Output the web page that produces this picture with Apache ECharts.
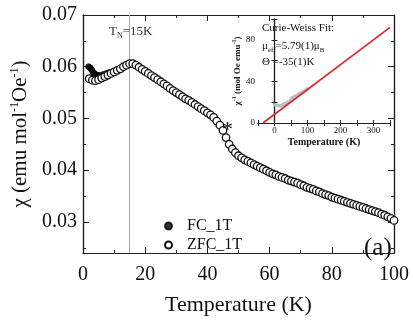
<!DOCTYPE html>
<html>
<head>
<meta charset="utf-8">
<script src="https://cdn.jsdelivr.net/npm/echarts@6/dist/echarts.min.js"></script>
<style>
html,body{margin:0;padding:0;background:#fff;}
#chart{width:413px;height:321px;}
</style>
</head>
<body>
<div id="chart"></div>
<script>
// ZFC susceptibility, 1 T
var tempZfc = [2,3,4,5,6,7,8,9,10,11,12,13,14,15,16,17,18,19,20,21,22,23,24,25,26,27,28,29,30,
  31,32,33,34,35,36,37,38,39,40,41,42,43,44,45,46,47,48,49,50,51,52,53,54,55,56,57,58,59,60,
  61,62,63,64,65,66,67,68,69,70,71,72,73,74,75,76,77,78,79,80,81,82,83,84,85,86,87,88,89,90,
  91,92,93,94,95,96,97,98,99,100];
var chiZfc = [0.0577,0.0574,0.0573,0.0575,0.0578,0.0581,0.0584,0.0587,0.0590,0.0593,0.0596,0.0600,0.0603,0.0606,
  0.0606,0.0603,0.0599,0.0595,0.0591,0.0587,0.0583,0.0579,0.0575,0.0571,0.0567,0.0563,0.0558,0.0554,0.0550,
  0.0546,0.0542,0.0538,0.0535,0.0531,0.0527,0.0523,0.0519,0.0515,0.0511,0.0507,0.0502,0.0495,0.0487,0.0477,
  0.0463,0.0450,0.0441,0.0434,0.0428,0.0424,0.0420,0.0417,0.0414,0.0411,0.0408,0.0405,0.0402,0.0399,0.0396,
  0.0393,0.0391,0.0388,0.0386,0.0384,0.0381,0.0379,0.0377,0.0375,0.0372,0.0370,0.0367,0.0365,0.0363,0.0360,
  0.0358,0.0355,0.0353,0.0351,0.0348,0.0346,0.0344,0.0342,0.0340,0.0338,0.0336,0.0334,0.0332,0.0330,0.0328,
  0.0326,0.0324,0.0322,0.0320,0.0318,0.0315,0.0313,0.0310,0.0307,0.0303];
// FC, only the low-T part where it splits from ZFC
var tempFc = [1.8,2.3,2.8,3.3,3.8,4.3,4.8,5.5,6.5,7.5,8.5];
var chiFc = [0.0600,0.0598,0.0594,0.0589,0.0586,0.0584,0.0583,0.0583,0.0585,0.0587,0.0589];
var tN = 15;

// inset: inverse susceptibility + Curie-Weiss line
var invTemp = [2,5,10,15,20,25,30,35,40,45,50,55,60,65,70,75,80,85,90,95,100];
var invChi = [17.3,17.4,16.9,16.5,16.9,17.5,18.2,18.9,19.6,21.0,23.4,24.3,25.3,26.0,26.9,27.8,28.7,29.6,30.5,31.4,33.0];
var fitTemp = [-35,350];
var fitInvChi = [0,92];

var yLabels = [0.03,0.04,0.05,0.06,0.07];
var yMinor = [0.025,0.035,0.045,0.055,0.065];

function pairs(xs,ys){
  var out=[];
  for(var i=0;i<xs.length;i++) out.push([xs[i],ys[i]]);
  return out;
}

var serif = 'Liberation Serif';
var frame = {show:true,lineStyle:{color:'#222',width:1.2}};

function mainY(pos,major,labels){
  return {
    type:'value',gridIndex:0,position:pos,min:0.024,max:0.07,
    axisLine:frame,splitLine:{show:false},
    axisTick:{show:true,inside:true,length:major?6:3,customValues:major?yLabels:yMinor,lineStyle:{color:'#222'}},
    axisLabel:{show:labels,customValues:yLabels,fontFamily:serif,fontSize:20,color:'#111',margin:6,
      formatter:function(v){return v.toFixed(2);}}
  };
}
function mainX(pos,labels){
  return {
    type:'value',gridIndex:0,position:pos,min:0,max:100,interval:20,
    axisLine:frame,splitLine:{show:false},
    axisTick:{show:true,inside:true,length:6,lineStyle:{color:'#222'}},
    minorTick:{show:true,splitNumber:2,length:3,lineStyle:{color:'#222'}},
    axisLabel:{show:labels,fontFamily:serif,fontSize:20,color:'#111',margin:12},
    name:labels?'Temperature (K)':'',nameLocation:'middle',nameGap:41,
    nameTextStyle:{fontFamily:serif,fontSize:22,color:'#111'}
  };
}
function insetX(pos,labels){
  return {
    type:'value',gridIndex:1,position:pos,min:-50,max:350,interval:50,
    axisLine:frame,splitLine:{show:false},
    axisTick:{show:true,inside:true,length:3,lineStyle:{color:'#222'}},
    axisLabel:{show:labels,fontFamily:serif,fontSize:9,color:'#111',margin:3,
      formatter:function(v){return v%100===0?String(v):'';}},
    name:labels?'Temperature (K)':'',nameLocation:'middle',nameGap:14,
    nameTextStyle:{fontFamily:serif,fontSize:10,fontWeight:'bold',color:'#111'}
  };
}
function insetY(pos,labels){
  return {
    type:'value',gridIndex:1,position:pos,min:0,max:100,interval:20,
    axisLine:frame,splitLine:{show:false},
    axisTick:{show:true,inside:true,length:3,lineStyle:{color:'#222'}},
    axisLabel:{show:labels,fontFamily:serif,fontSize:9,color:'#111',margin:3,
      formatter:function(v){return v%40===0?String(v):'';}},
    name:labels?'{a|χ}{s|-1}{a| (mol Oe emu}{s|-1}{a|)}':'',nameLocation:'middle',nameRotate:90,nameGap:14,
    nameTextStyle:{rich:{
      a:{fontFamily:serif,fontSize:9,fontWeight:'bold',color:'#111',lineHeight:12},
      s:{fontFamily:serif,fontSize:6,fontWeight:'bold',color:'#111',verticalAlign:'top',lineHeight:12}
    }}
  };
}

var yMain = mainY('left',true,true);
yMain.name = '{a|χ (emu mol}{s|-1}{a|Oe}{s|-1}{a|)}';
yMain.nameLocation = 'middle';
yMain.nameRotate = 90;
yMain.nameGap = 46;
yMain.nameTextStyle = {rich:{
  a:{fontFamily:serif,fontSize:21,color:'#111',lineHeight:24},
  s:{fontFamily:serif,fontSize:12,color:'#111',verticalAlign:'top',lineHeight:24}
}};

var chart = echarts.init(document.getElementById('chart'),null,{renderer:'canvas'});
chart.setOption({
  backgroundColor:'#fff',
  animation:false,
  grid:[
    {left:83,right:19,top:15,bottom:54},
    {left:258,right:23,top:19,bottom:198}
  ],
  xAxis:[mainX('bottom',true),mainX('top',false),insetX('bottom',true),insetX('top',false)],
  yAxis:[yMain,mainY('left',false,false),mainY('right',true,false),mainY('right',false,false),
    insetY('left',true),insetY('right',false)],
  legend:{
    orient:'vertical',left:159,top:213,itemWidth:7,itemHeight:7,itemGap:3,
    textStyle:{fontFamily:serif,fontSize:16,color:'#111',padding:[0,0,0,10]},
    data:['FC_1T','ZFC_1T']
  },
  series:[
    {
      name:'FC_1T',type:'scatter',xAxisIndex:0,yAxisIndex:0,
      symbol:'circle',symbolSize:6,
      itemStyle:{color:'#000',borderColor:'#000',borderWidth:0.8},
      data:pairs(tempFc,chiFc),z:2
    },
    {
      name:'ZFC_1T',type:'scatter',xAxisIndex:0,yAxisIndex:0,
      symbol:'circle',symbolSize:7.5,
      itemStyle:{color:'#fff',borderColor:'#111',borderWidth:1.3,opacity:1},
      data:pairs(tempZfc,chiZfc),z:3,
      markLine:{
        silent:true,symbol:'none',label:{show:false},
        lineStyle:{color:'#aaa',width:1,type:'solid'},
        data:[{xAxis:tN}],z:1
      }
    },
    {
      name:'inv',type:'scatter',xAxisIndex:2,yAxisIndex:4,
      symbol:'circle',symbolSize:4,
      itemStyle:{color:'#bdbdbd'},
      data:pairs(invTemp,invChi),z:4
    },
    {
      name:'fit',type:'line',xAxisIndex:2,yAxisIndex:4,
      showSymbol:false,lineStyle:{color:'#e0202a',width:1.6},
      data:pairs(fitTemp,fitInvChi),z:5
    }
  ],
  graphic:[
    {type:'text',left:109,top:25,z:10,style:{
      text:'{t|T}{s|N}{t|=15K}',
      rich:{t:{fontFamily:serif,fontSize:13,fill:'#333',lineHeight:16},
            s:{fontFamily:serif,fontSize:8,fill:'#333',verticalAlign:'bottom',lineHeight:16}}
    }},
    {type:'text',left:222,top:119,z:10,style:{text:'*',fontFamily:serif,fontSize:22,fill:'#111'}},
    {type:'text',left:364,top:236,z:10,style:{text:'(a)',fontFamily:serif,fontSize:25,fill:'#111'}},
    {type:'text',left:262,top:23,z:10,style:{text:'Curie-Weiss Fit:',fontFamily:serif,fontSize:11,fill:'#111'}},
    {type:'text',left:262,top:41,z:10,style:{
      text:'{t|μ}{s|eff}{t|=5.79(1)μ}{s|B}',
      rich:{t:{fontFamily:serif,fontSize:11,fill:'#111',lineHeight:14},
            s:{fontFamily:serif,fontSize:7,fill:'#111',verticalAlign:'bottom',lineHeight:14}}
    }},
    {type:'text',left:262,top:57,z:10,style:{text:'Θ =-35(1)K',fontFamily:serif,fontSize:11,fill:'#111'}}
  ]
});
</script>
</body>
</html>
